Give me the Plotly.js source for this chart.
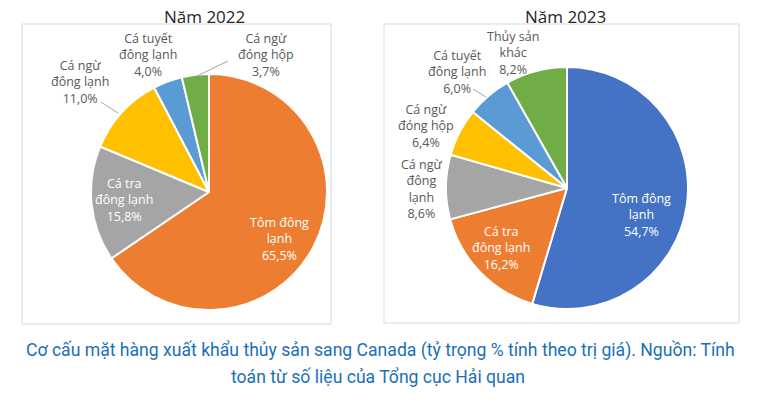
<!DOCTYPE html>
<html>
<head>
<meta charset="utf-8">
<script src="https://cdn.plot.ly/plotly-3.0.1.min.js"></script>
<style>html,body{margin:0;padding:0;background:#fff;}#chart{width:762px;height:402px;}</style>
</head>
<body>
<div id="chart"></div>
<script>
// ---- data ----
const categories2022 = ["Tôm đông lạnh", "Cá tra đông lạnh", "Cá ngừ đông lạnh", "Cá tuyết đông lạnh", "Cá ngừ đóng hộp"];
const values2022 = [65.5, 15.8, 11.0, 4.0, 3.7];
const labelLines2022 = ["Tôm đông<br>lạnh", "Cá tra<br>đông lạnh", "Cá ngừ<br>đông lạnh", "Cá tuyết<br>đông lạnh", "Cá ngừ<br>đóng hộp"];

const categories2023 = ["Tôm đông lạnh", "Cá tra đông lạnh", "Cá ngừ đông lạnh", "Cá ngừ đóng hộp", "Cá tuyết đông lạnh", "Thủy sản khác"];
const values2023 = [54.7, 16.2, 8.6, 6.4, 6.0, 8.2];
const labelLines2023 = ["Tôm đông<br>lạnh", "Cá tra<br>đông lạnh", "Cá ngừ<br>đông<br>lạnh", "Cá ngừ<br>đóng hộp", "Cá tuyết<br>đông lạnh", "Thủy sản<br>khác"];

const titles = ["Năm 2022", "Năm 2023"];
const captionLines = [
  "Cơ cấu mặt hàng xuất khẩu thủy sản sang Canada (tỷ trọng % tính theo trị giá). Nguồn: Tính",
  "toán từ số liệu của Tổng cục Hải quan"
];

// ---- styles / layout ----
const W = 762, H = 402;
const X = p => p / W;
const Y = p => 1 - p / H;
const colors2022 = ["#ED7D31", "#A5A5A5", "#FFC000", "#5B9BD5", "#70AD47"];
const colors2023 = ["#4472C4", "#ED7D31", "#A5A5A5", "#FFC000", "#5B9BD5", "#70AD47"];
const inside2022 = [true, true, false, false, false];
const inside2023 = [true, true, false, false, false, false];
// label centres (pixels)
const pos2022 = [[279, 239], [124, 200], [80, 82], [148, 55], [266, 55]];
const pos2023 = [[641, 215], [501, 248], [422, 189], [426, 126], [457, 72], [513, 53]];
const pies = [
  {cx: 209, cy: 192, r: 118},
  {cx: 567, cy: 188, r: 121}
];
const fmt = v => v.toFixed(1).replace(".", ",") + "%";

function pieTrace(cats, vals, cols, p) {
  return {
    type: "pie", labels: cats, values: vals, sort: false, direction: "clockwise", rotation: 0,
    marker: {colors: cols, line: {color: "#ffffff", width: 2}},
    textinfo: "none", hoverinfo: "label+percent", showlegend: false,
    domain: {x: [X(p.cx - p.r), X(p.cx + p.r)], y: [Y(p.cy + p.r), Y(p.cy - p.r)]}
  };
}

const annotations = [];
function addLabels(lines, vals, inside, pos) {
  lines.forEach((t, i) => {
    annotations.push({
      xref: "paper", yref: "paper", x: X(pos[i][0]), y: Y(pos[i][1]),
      xanchor: "center", yanchor: "middle", showarrow: false, align: "center",
      text: t + "<br>" + fmt(vals[i]),
      font: {family: "Open Sans, sans-serif", size: 12.5, color: inside[i] ? "#ffffff" : "#595959"}
    });
  });
}
addLabels(labelLines2022, values2022, inside2022, pos2022);
addLabels(labelLines2023, values2023, inside2023, pos2023);
[[204, titles[0]], [565, titles[1]]].forEach(([x, t]) => annotations.push({
  xref: "paper", yref: "paper", x: X(x), y: Y(16), xanchor: "center", yanchor: "middle",
  showarrow: false, text: t, font: {family: "Open Sans, sans-serif", size: 17, color: "#262626"}
}));
[[380, 350, captionLines[0]], [378, 377, captionLines[1]]].forEach(([x, y, t]) => annotations.push({
  xref: "paper", yref: "paper", x: X(x), y: Y(y), xanchor: "center", yanchor: "middle",
  showarrow: false, text: t,
  font: {family: "Roboto, sans-serif", size: 17.6, color: "#1a6fb8"}
}));

const shapes = [
  {type: "rect", xref: "paper", yref: "paper", x0: X(22), x1: X(331), y0: Y(324), y1: Y(24), line: {color: "#d9d9d9", width: 1}},
  {type: "rect", xref: "paper", yref: "paper", x0: X(384), x1: X(739), y0: Y(323), y1: Y(24), line: {color: "#d9d9d9", width: 1}},
  {type: "line", xref: "paper", yref: "paper", x0: X(101), y0: Y(102), x1: X(118), y1: Y(113), line: {color: "#a6a6a6", width: 1}},
  {type: "line", xref: "paper", yref: "paper", x0: X(197), y0: Y(76), x1: X(228), y1: Y(61), line: {color: "#a6a6a6", width: 1}},
  {type: "line", xref: "paper", yref: "paper", x0: X(473), y0: Y(89), x1: X(486), y1: Y(97), line: {color: "#a6a6a6", width: 1}}
];

const layout = {
  width: W, height: H, margin: {l: 0, r: 0, t: 0, b: 0},
  paper_bgcolor: "#ffffff", plot_bgcolor: "#ffffff",
  annotations: annotations, shapes: shapes, showlegend: false
};

Plotly.newPlot("chart", [
  pieTrace(categories2022, values2022, colors2022, pies[0]),
  pieTrace(categories2023, values2023, colors2023, pies[1])
], layout, {displayModeBar: false, staticPlot: true});
</script>
</body>
</html>
